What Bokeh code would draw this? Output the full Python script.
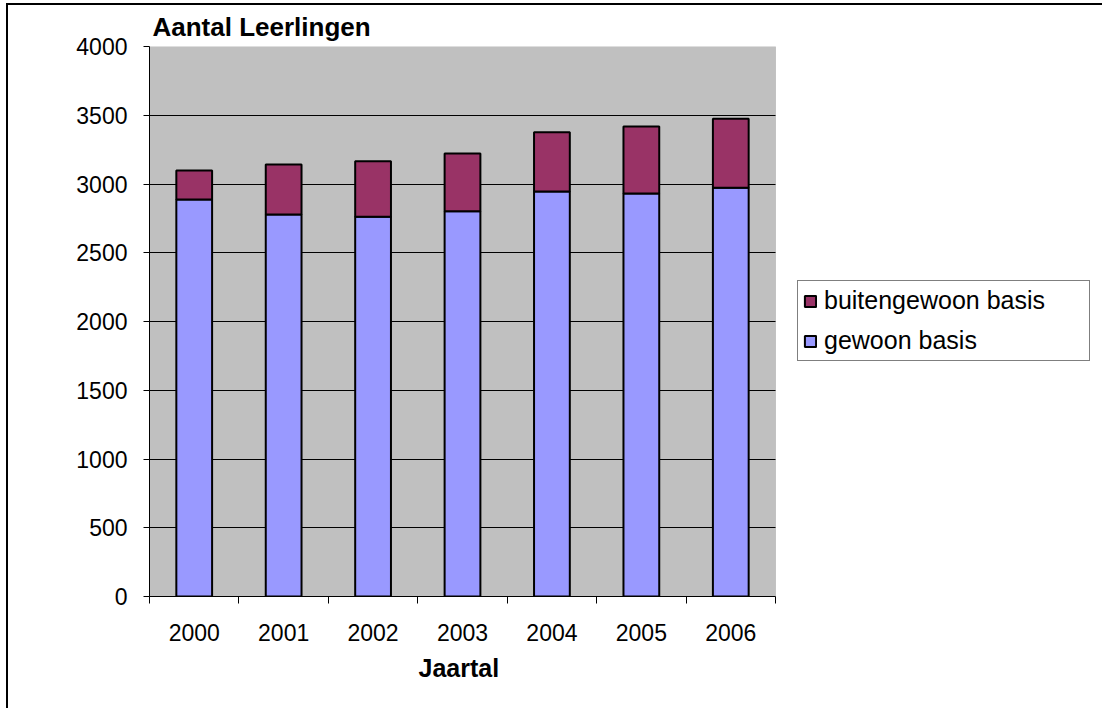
from bokeh.plotting import figure
from bokeh.models import (ColumnDataSource, FixedTicker, Legend, LegendItem, Range1d,
                          BoxAnnotation, Title)
from bokeh.embed import file_html
from bokeh.resources import INLINE

years = ["2000", "2001", "2002", "2003", "2004", "2005", "2006"]
gewoon = [2887, 2778, 2761, 2802, 2945, 2931, 2972]
buitengewoon = [211, 364, 405, 420, 432, 487, 502]
y_ticks = [0, 500, 1000, 1500, 2000, 2500, 3000, 3500, 4000]

n = len(years)
xpos = [i + 0.5 for i in range(n)]
src = ColumnDataSource(dict(x=xpos, gewoon=gewoon, buitengewoon=buitengewoon))

FONT = "Liberation Sans"

W, H = 1096, 705
MBL, MBR = 141, 8
PLOT_W = 626                      # width of the grey plot area in px
frame_w = W - MBL - MBR
x_end = n * frame_w / PLOT_W      # extra room on the right holds the legend

p = figure(width=W, height=H, output_backend="svg", toolbar_location=None,
           x_range=Range1d(0, x_end), y_range=Range1d(0, 4000),
           title="Aantal Leerlingen")
p.margin = (3, 0, 0, 6)
p.styles = {"border-left": "2px solid black", "border-top": "2px solid black"}
p.min_border_left = MBL
p.min_border_right = MBR
p.min_border_top = 39
p.min_border_bottom = 114
p.background_fill_color = "white"
p.border_fill_color = "white"
p.outline_line_color = None

plot_area = BoxAnnotation(left=0, right=n, bottom=0, top=4000, level="image",
                          fill_color="#C0C0C0", fill_alpha=1,
                          line_color="#808080", line_width=1)
p.add_layout(plot_area)

p.title.text_font = FONT
p.title.text_font_size = "26px"
p.title.text_font_style = "bold"
p.title.text_color = "black"
p.title.align = "left"
p.title.offset = 3
p.title.standoff = 9

renderers = p.vbar_stack(["gewoon", "buitengewoon"], x="x", width=0.4, source=src,
                         fill_color=["#9999FF", "#993366"], line_color="black",
                         line_width=2)

# axes
p.xaxis.bounds = (0, n)
p.xaxis.ticker = FixedTicker(ticks=xpos, minor_ticks=list(range(n + 1)))
p.xaxis.major_label_overrides = {x: y for x, y in zip(xpos, years)}
p.xaxis.major_tick_line_color = None
p.xaxis.minor_tick_line_color = "black"
p.xaxis.minor_tick_in = 0
p.xaxis.minor_tick_out = 7
p.xaxis.axis_line_color = "black"
p.xaxis.major_label_text_font = FONT
p.xaxis.major_label_text_font_size = "23px"
p.xaxis.major_label_text_color = "black"
p.xaxis.major_label_standoff = 20

# small spacer between the year labels and the axis title
spacer = Title(text=" ", text_font=FONT, text_font_size="6px", standoff=0)
p.add_layout(spacer, "below")
xtitle = Title(text="Jaartal", align="left", offset=269, standoff=0,
               text_font=FONT, text_font_size="25px", text_font_style="bold",
               text_color="black")
p.add_layout(xtitle, "below")

p.yaxis.ticker = FixedTicker(ticks=y_ticks)
p.yaxis.minor_tick_line_color = None
p.yaxis.major_tick_in = 0
p.yaxis.major_tick_out = 6
p.yaxis.axis_line_color = "black"
p.yaxis.major_label_text_font = FONT
p.yaxis.major_label_text_font_size = "23px"
p.yaxis.major_label_text_color = "black"
p.yaxis.major_label_standoff = 16

p.xgrid.grid_line_color = None
p.ygrid.grid_line_color = "black"
p.ygrid.cross_bounds = (0, n)

legend = Legend(items=[LegendItem(label="buitengewoon basis", renderers=[renderers[1]]),
                       LegendItem(label="gewoon basis", renderers=[renderers[0]])],
                location=(648, 235))
legend.border_line_color = "black"
legend.border_line_width = 1
legend.background_fill_color = "white"
legend.background_fill_alpha = 1
legend.label_text_font = FONT
legend.label_text_font_size = "25px"
legend.label_text_color = "black"
legend.glyph_width = 14
legend.glyph_height = 14
legend.label_height = 29
legend.label_width = 260
legend.spacing = 11
legend.padding = 5
legend.margin = 0
legend.label_standoff = 7
p.add_layout(legend, "center")

open("out.html", "w").write(file_html(p, INLINE))
